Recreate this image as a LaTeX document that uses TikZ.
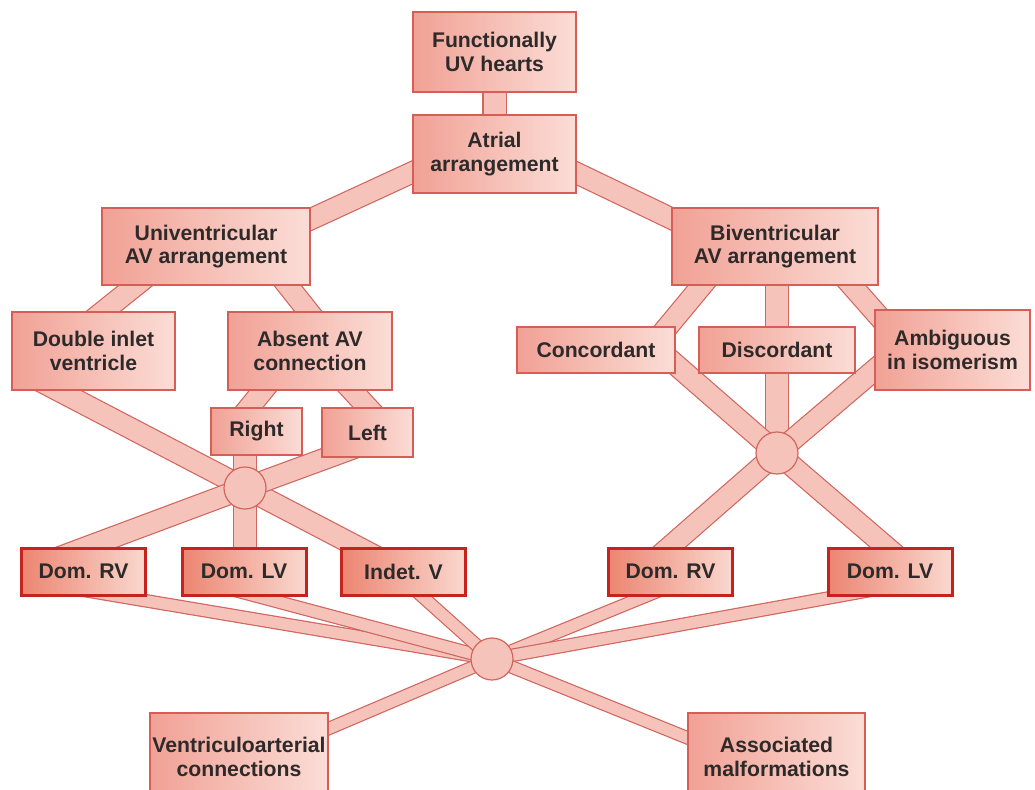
\documentclass[tikz,border=0pt]{standalone}
\usepackage{fontspec}
\setmainfont{Liberation Sans}
\usetikzlibrary{backgrounds}
\definecolor{boxedge}{HTML}{D65E57}
\definecolor{boxleft}{HTML}{F1A195}
\definecolor{boxright}{HTML}{FBDDD6}
\definecolor{domedge}{HTML}{C5231F}
\definecolor{domleft}{HTML}{EC8571}
\definecolor{domright}{HTML}{FAD8CF}
\definecolor{baredge}{HTML}{D0665F}
\definecolor{barfill}{HTML}{F6C3BA}
\definecolor{inktext}{HTML}{2E2A2A}

\begin{document}
\begin{tikzpicture}[x=0.5pt, y=-0.5pt,
      box/.style={draw=boxedge, line width=1pt, left color=boxleft,
                  right color=boxright, text=inktext, align=center,
                  font=\bfseries\fontsize{10.6}{11.8}\selectfont,
                  inner sep=0pt},
      dom/.style={box, draw=domedge, line width=1.5pt, left color=domleft,
                  right color=domright, minimum width=62pt,
                  minimum height=23.5pt},
      hub/.style={circle, draw=baredge, line width=0.6pt, fill=barfill,
                  minimum size=21pt, inner sep=0pt},
      bar/.style={draw=baredge, line width=0.6pt, double=barfill,
                  double distance=10pt},
      thinbar/.style={bar, double distance=5.6pt}]
    \useasboundingbox (0,0) rectangle (1035,789);
    \clip (0,0) rectangle (1035,789);
    \node[box, minimum width=81.5pt, minimum height=40pt] (fuv) at (494.5,52)
      {Functionally\\UV hearts};
    \node[box, minimum width=81.5pt, minimum height=39pt] (atr) at (494.5,154)
      {Atrial\\arrangement};
    \node[box, minimum width=104pt, minimum height=38.5pt] (uni) at (206,246.5)
      {Univentricular\\AV arrangement};
    \node[box, minimum width=103pt, minimum height=38.5pt] (biv) at (775,246.5)
      {Biventricular\\AV arrangement};
    \node[box, minimum width=81.5pt, minimum height=39pt] (dil) at (93.5,351)
      {Double inlet\\ventricle};
    \node[box, minimum width=82pt, minimum height=39pt] (abs) at (310,351)
      {Absent AV\\connection};
    \node[box, minimum width=45.5pt, minimum height=23.5pt] (rgt) at (256.5,431.5)
      {Right};
    \node[box, minimum width=45.5pt, minimum height=24.5pt] (lft) at (367.5,432.5)
      {Left};
    \node[box, minimum width=79pt, minimum height=23pt] (con) at (596,350)
      {Concordant};
    \node[box, minimum width=78pt, minimum height=23pt] (dis) at (777,350)
      {Discordant};
    \node[box, minimum width=77.5pt, minimum height=40pt] (amb) at (952.5,350)
      {Ambiguous\\in isomerism};
    \node[hub] (lj) at (245,488) {};
    \node[hub] (rj) at (777,453) {};
    \node[hub] (bj) at (492,659) {};
    \node[dom] (drv1) at (83.5,571.5) {Dom. RV};
    \node[dom] (dlv1) at (244,571.5) {Dom. LV};
    \node[dom] (ind) at (403.5,571.5) {Indet. V};
    \node[dom] (drv2) at (670.5,571.5) {Dom. RV};
    \node[dom] (dlv2) at (890,571.5) {Dom. LV};
    \node[box, minimum width=89pt, minimum height=44pt] (vac) at (239,757)
      {Ventriculoarterial\\connections};
    \node[box, minimum width=88.5pt, minimum height=44pt] (ams) at (776.5,757)
      {Associated\\malformations};
    \begin{scope}[on background layer]
      \draw[thinbar] ([shift={(-13.5,16.5)}]drv1.center) -- (bj.center);
      \draw[thinbar] ([shift={(-29,13.5)}]dlv1.center) -- (bj.center);
      \draw[thinbar] ([shift={(-8.5,0.5)}]ind.center) -- (bj.center);
      \draw[thinbar] ([shift={(19.5,6.5)}]drv2.center) -- (bj.center);
      \draw[thinbar] ([shift={(10,13.5)}]dlv2.center) -- (bj.center);
      \draw[thinbar] (bj.center) -- ([shift={(51,-12)}]vac.center);
      \draw[thinbar] (bj.center) -- ([shift={(-46.5,-2)}]ams.center);
      \draw[bar, double distance=11pt] (fuv.center) -- (atr.center);
      \draw[bar] ([shift={(-44.5,1)}]atr.center) -- ([shift={(64,-8.5)}]uni.center);
      \draw[bar] ([shift={(44.5,1)}]atr.center) -- ([shift={(-63,-8.5)}]biv.center);
      \draw[bar] ([shift={(-41,15.5)}]uni.center) -- ([shift={(-18.5,-17)}]dil.center);
      \draw[bar] ([shift={(63,15.5)}]uni.center) -- ([shift={(21,-11)}]abs.center);
      \draw[bar] ([shift={(-32,21)}]abs.center) -- ([shift={(-21.5,-6.5)}]rgt.center);
      \draw[bar] ([shift={(25,21)}]abs.center) -- ([shift={(14.5,-9.5)}]lft.center);
      \draw[bar] ([shift={(-53.5,30)}]dil.center) -- (lj.center);
      \draw[bar] (lj.center) -- ([shift={(-3.5,-2.5)}]ind.center);
      \draw[bar] ([shift={(-2.5,11.5)}]lft.center) -- (lj.center);
      \draw[bar] (lj.center) -- ([shift={(-43.5,-7)}]drv1.center);
      \draw[bar, double distance=11pt] ([shift={(-11.5,0)}]rgt.center) --
        ([shift={(1,0)}]dlv1.center);
      \draw[bar] ([shift={(-52,13.5)}]biv.center) -- ([shift={(54,-2)}]con.center);
      \draw[bar, double distance=11pt] ([shift={(2,0)}]biv.center) -- (dis.center);
      \draw[bar] ([shift={(55,14.5)}]biv.center) -- ([shift={(-47.5,-4)}]amb.center);
      \draw[bar, double distance=11pt] (dis.center) -- (rj.center);
      \draw[bar] ([shift={(64,1)}]con.center) -- (rj.center);
      \draw[bar] (rj.center) -- ([shift={(15,-8.5)}]dlv2.center);
      \draw[bar] ([shift={(-47.5,-6)}]amb.center) -- (rj.center);
      \draw[bar] (rj.center) -- ([shift={(-20.5,-7.5)}]drv2.center);
    \end{scope}
  \end{tikzpicture}
\end{document}
